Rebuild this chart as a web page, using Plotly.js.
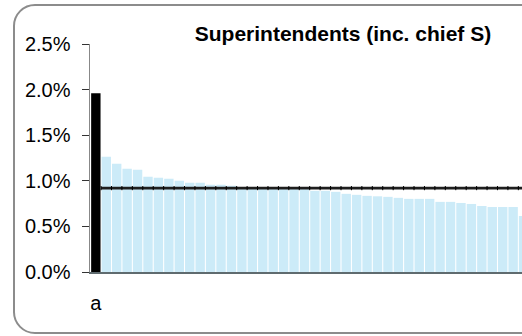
<!DOCTYPE html>
<html>
<head>
<meta charset="utf-8">
<script src="https://cdn.plot.ly/plotly-3.0.1.min.js"></script>
<style>
  html, body { margin: 0; padding: 0; background: #fff; }
  #wrap { position: relative; width: 522px; height: 336px; overflow: hidden; }
  #frame { position: absolute; left: 13px; top: 4px; width: 560px; height: 330px;
           border: 2px solid #8c8c8c; border-radius: 22px; box-sizing: border-box; }
  #chart { position: absolute; left: 0; top: 0; width: 522px; height: 336px; }
</style>
</head>
<body>
<div id="wrap">
  <div id="frame"></div>
  <div id="chart"></div>
</div>
<script>
// Data (shares, %)
const highlightLabel = "a";
const highlightValue = 1.96;
const otherValues = [
  1.265, 1.187, 1.132, 1.121, 1.044, 1.033, 1.022, 1.000, 0.978, 0.978,
  0.956, 0.956, 0.945, 0.930, 0.930, 0.925, 0.920, 0.920, 0.918, 0.910,
  0.890, 0.890, 0.879, 0.857, 0.846, 0.835, 0.830, 0.824, 0.813, 0.802,
  0.802, 0.802, 0.769, 0.769, 0.757, 0.746, 0.724, 0.713, 0.713, 0.713,
  0.614
];
const averageValue = 0.92;
const yTickVals = [0, 0.5, 1.0, 1.5, 2.0, 2.5];
const yTickText = ["0.0%", "0.5%", "1.0%", "1.5%", "2.0%", "2.5%"];
const titleText = "Superintendents (inc. chief S)";

const otherX = otherValues.map((v, i) => i + 1);
const n = otherValues.length + 1;
const lineX = [];
for (let i = 0; i <= n - 1; i++) lineX.push(i + 0.5);
const lineY = lineX.map(() => averageValue);

const font = "Liberation Sans, Arial, sans-serif";

const traces = [
  { type: "bar", x: [0], y: [highlightValue], marker: { color: "#000000" },
    hoverinfo: "skip", showlegend: false },
  { type: "bar", x: otherX, y: otherValues, marker: { color: "#CCEBF8" },
    hoverinfo: "skip", showlegend: false },
  { type: "scatter", mode: "lines+markers", x: lineX, y: lineY,
    line: { color: "#1e1e1e", width: 2.7 },
    marker: { symbol: "line-ns-open", size: 3, color: "#000", line: { color: "#000", width: 1 } },
    hoverinfo: "skip", showlegend: false }
];

const layout = {
  width: 522, height: 336,
  margin: { l: 90, r: 0, t: 44, b: 64, pad: 0 },
  paper_bgcolor: "rgba(0,0,0,0)",
  plot_bgcolor: "rgba(0,0,0,0)",
  barmode: "overlay",
  bargap: 0.1,
  showlegend: false,
  font: { family: font, size: 20, color: "#000" },
  title: {
    text: "<b>" + titleText + "</b>",
    font: { family: font, size: 21, color: "#000" },
    xref: "container", yref: "container",
    x: 0.657, xanchor: "center", y: 0.899, yanchor: "middle"
  },
  xaxis: {
    range: [-0.56, 40.85],
    tickmode: "array", tickvals: [0], ticktext: [highlightLabel],
    ticks: "", showgrid: false, zeroline: false,
    showline: true, linecolor: "#5f6b6f", linewidth: 2,
    ticklabelstandoff: 12,
    tickfont: { family: font, size: 20, color: "#000" }
  },
  yaxis: {
    range: [0, 2.5],
    tickmode: "array", tickvals: yTickVals, ticktext: yTickText,
    ticks: "outside", ticklen: 7, tickwidth: 1, tickcolor: "#333",
    showgrid: false, zeroline: false,
    showline: true, linecolor: "#888", linewidth: 1.5,
    ticklabelstandoff: 7,
    tickfont: { family: font, size: 20, color: "#000" }
  }
};

Plotly.newPlot("chart", traces, layout, { staticPlot: true, displayModeBar: false });
</script>
</body>
</html>
